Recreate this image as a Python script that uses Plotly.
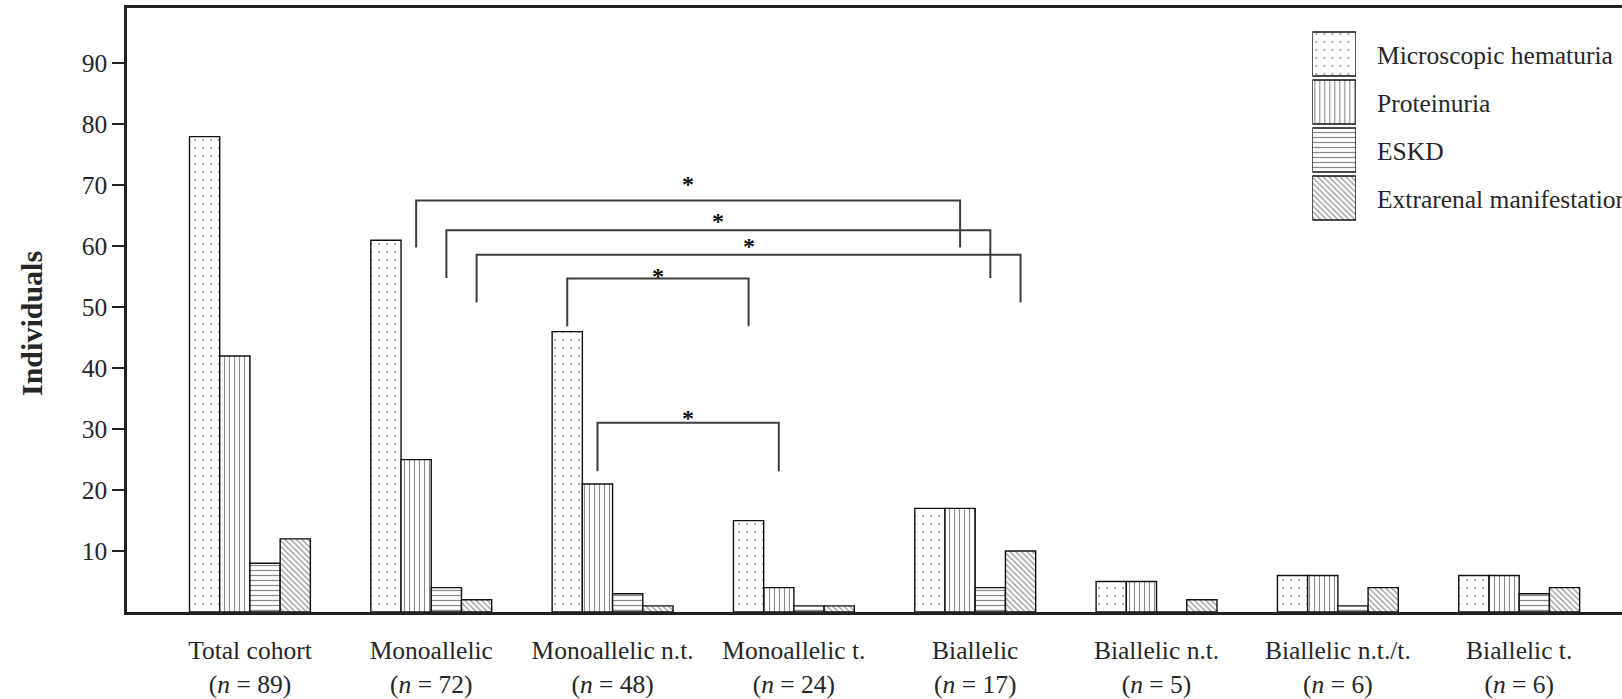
import plotly.graph_objects as go

# ---- data -------------------------------------------------------------
groups = ["Total cohort", "Monoallelic", "Monoallelic n.t.", "Monoallelic t.",
          "Biallelic", "Biallelic n.t.", "Biallelic n.t./t.", "Biallelic t."]
group_n = [89, 72, 48, 24, 17, 5, 6, 6]

series_names = ["Microscopic hematuria", "Proteinuria", "ESKD", "Extrarenal manifestation"]
hematuria = [78, 61, 46, 15, 17, 5, 6, 6]
proteinuria = [42, 25, 21, 4, 17, 5, 6, 6]
eskd = [8, 4, 3, 1, 4, 0, 1, 3]
extrarenal = [12, 2, 1, 1, 10, 2, 4, 4]

y_ticks = [10, 20, 30, 40, 50, 60, 70, 80, 90]

# significant comparisons: (group index, series index) at each end of a bracket
sig_left = [(1, 1), (1, 2), (1, 3), (2, 0), (2, 1)]
sig_right = [(4, 1), (4, 2), (4, 3), (3, 0), (3, 1)]
sig_top = [67.5, 62.65, 58.6, 54.7, 31.05]
sig_foot = [59.8, 54.8, 50.8, 46.9, 23.1]
sig_star = [71.1, 64.9, 60.8, 55.9, 32.7]

# ---- styling ----------------------------------------------------------
FONT = "Liberation Serif, Times New Roman, serif"
INK = "#262626"
FS = 25.5
patterns = [
    dict(shape=".", size=8, solidity=0.06, fgcolor="#333", bgcolor="white"),
    dict(shape="|", size=5, solidity=0.22, fgcolor="#111", bgcolor="white"),
    dict(shape="-", size=5, solidity=0.25, fgcolor="#111", bgcolor="white"),
    dict(shape="\\", size=4, solidity=0.3, fgcolor="#222", bgcolor="white"),
]
values = [hematuria, proteinuria, eskd, extrarenal]

BARGAP = 1 / 3
bar_w = (1 - BARGAP) / len(series_names)


def bar_center(g, s):
    return g + (s - (len(series_names) - 1) / 2) * bar_w


fig = go.Figure()
xs = list(range(len(groups)))
for name, vals, pat in zip(series_names, values, patterns):
    fig.add_trace(go.Bar(
        x=xs, y=vals, name=name, showlegend=False,
        marker=dict(color="white", pattern=pat, line=dict(color="#111", width=1.4)),
    ))

# legend keys on a small helper axis
for i, (name, pat) in enumerate(zip(series_names, patterns)):
    fig.add_trace(go.Bar(
        x=[1], y=[i], base=0, orientation="h", width=0.9167, showlegend=False,
        xaxis="x2", yaxis="y2",
        marker=dict(color="white", pattern=pat, line=dict(color="#111", width=1.4)),
    ))
    fig.add_annotation(x=0.8348, xref="paper", y=i, yref="y2", text=name,
                       showarrow=False, xanchor="left", yanchor="middle", yshift=-2,
                       font=dict(family=FONT, size=FS, color=INK))

# significance brackets
for (ga, sa), (gb, sb), top, foot, star in zip(sig_left, sig_right, sig_top, sig_foot, sig_star):
    xa, xb = bar_center(ga, sa), bar_center(gb, sb)
    fig.add_trace(go.Scatter(
        x=[xa, xa, xb, xb], y=[foot, top, top, foot], mode="lines",
        line=dict(color="#3c3c3c", width=2), showlegend=False, hoverinfo="skip",
    ))
    fig.add_annotation(x=(xa + xb) / 2, y=star, text="<b>*</b>", showarrow=False,
                       xanchor="center", yanchor="middle", yshift=-5,
                       font=dict(family=FONT, size=24, color="#111"))

tick_text = [f"{g}<br>(<i>n</i> = {n})" for g, n in zip(groups, group_n)]

L, T, B = 127, 8, 87
W, H = 1622, 699
plot_w, plot_h = W - L, H - T - B

fig.update_layout(
    width=W, height=H, autosize=False,
    margin=dict(l=L, r=0, t=T, b=B, pad=0),
    paper_bgcolor="white", plot_bgcolor="white",
    barmode="group", bargap=BARGAP, bargroupgap=0,
    font=dict(family=FONT, size=FS, color=INK),
    xaxis=dict(
        range=[-0.678, 7.567], tickvals=xs, ticktext=tick_text, ticks="",
        showgrid=False, zeroline=False, showline=True, mirror=True,
        linecolor="#222", linewidth=2.5, ticklabelstandoff=14,
        tickfont=dict(family=FONT, size=FS, color=INK),
    ),
    yaxis=dict(
        range=[0, 99.1], tickvals=y_ticks, ticks="outside", ticklen=12, tickwidth=2,
        tickcolor="#222", showgrid=False, zeroline=False, showline=True,
        linecolor="#222", linewidth=2.5,
        tickfont=dict(family=FONT, size=FS, color=INK),
    ),
    xaxis2=dict(domain=[(1312.3 - L) / plot_w, (1356 - L) / plot_w], range=[0, 1],
                anchor="y2", visible=False, fixedrange=True),
    yaxis2=dict(domain=[(612 - 222) / plot_h, (612 - 30) / plot_h], range=[3.5, -0.5],
                anchor="x2", visible=False, fixedrange=True),
)

fig.add_annotation(x=(31 - L) / plot_w, xref="paper", y=(612 - 324) / plot_h, yref="paper",
                   text="<b>Individuals</b>", textangle=-90, showarrow=False,
                   xanchor="center", yanchor="middle",
                   font=dict(family=FONT, size=30, color=INK))

fig.write_html("out.html")
